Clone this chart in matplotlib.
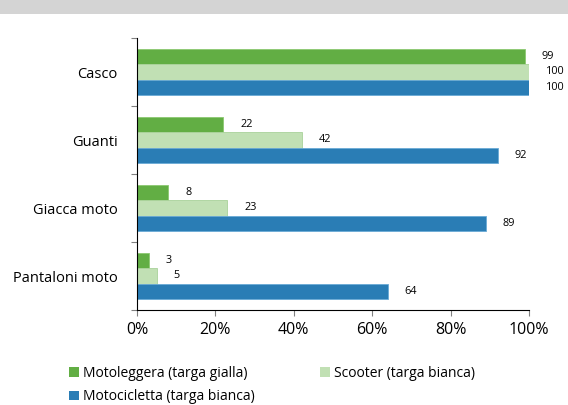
import matplotlib
matplotlib.use("Agg")
import matplotlib.pyplot as plt
import numpy as np
from matplotlib.patches import Rectangle, Patch

categories = ["Casco", "Guanti", "Giacca moto", "Pantaloni moto"]
motoleggera = [99, 22, 8, 3]
scooter = [100, 42, 23, 5]
motocicletta = [100, 92, 89, 64]
series_names = ["Motoleggera (targa gialla)", "Scooter (targa bianca)", "Motocicletta (targa bianca)"]
xtick_vals = [0, 20, 40, 60, 80, 100]

colors = ["#62ae44", "#c1e0b4", "#2a7db5"]
edges = ["#8cc870", "#a9d29a", "#6aaad6"]

plt.rcParams['font.family'] = ['Open Sans', 'DejaVu Sans']

fig = plt.figure(figsize=(5.68, 4.05), dpi=100)
fig.patches.append(Rectangle((0, 1 - 14/405), 1, 14/405, transform=fig.transFigure,
                             facecolor="#d4d4d4", edgecolor="none", zorder=0))
ax = fig.add_axes([137/568, 1 - 310/405, (529-137)/568, (310-38)/405])

y = np.arange(len(categories))
h = 0.225
series = [motoleggera, scooter, motocicletta]
offsets = [-h, 0, h]
for vals, off, c, ec in zip(series, offsets, colors, edges):
    ax.barh(y + off, vals, height=h, color=c, edgecolor=ec, linewidth=0.6)
    for yi, v in zip(y, vals):
        ax.text(v + 4.3, yi + off, str(v), va='center', ha='left', fontsize=7.8, color='black')

ax.set_ylim(len(categories) - 0.5, -0.5)
ax.set_xlim(0, 100)
ax.set_yticks(y)
ax.set_yticklabels(categories, fontsize=10.5)
ax.tick_params(axis='y', which='major', length=0, pad=14)
ax.set_yticks(np.arange(-0.5, len(categories)), minor=True)
ax.tick_params(axis='y', which='minor', length=4, color='#808080', width=0.8)
ax.set_xticks(xtick_vals)
ax.set_xticklabels([f"{v}%" for v in xtick_vals], fontsize=11.5)
ax.tick_params(axis='x', length=4, color='#808080', width=0.8, pad=5)
for s in ['top', 'right']:
    ax.spines[s].set_visible(False)
for s in ['left', 'bottom']:
    ax.spines[s].set_color('black')
    ax.spines[s].set_linewidth(0.8)

order = [0, 2, 1]
handles = [Patch(facecolor=colors[i], edgecolor='none') for i in order]
labels = [series_names[i] for i in order]
fig.legend(handles, labels, loc='upper left', bbox_to_anchor=(62/568, 1 - 359/405),
           ncol=2, frameon=False, fontsize=10, handlelength=0.7, handleheight=0.7,
           handletextpad=0.3, columnspacing=4.7, labelspacing=0.6, borderpad=0)

fig.savefig("out.png", dpi=100)
